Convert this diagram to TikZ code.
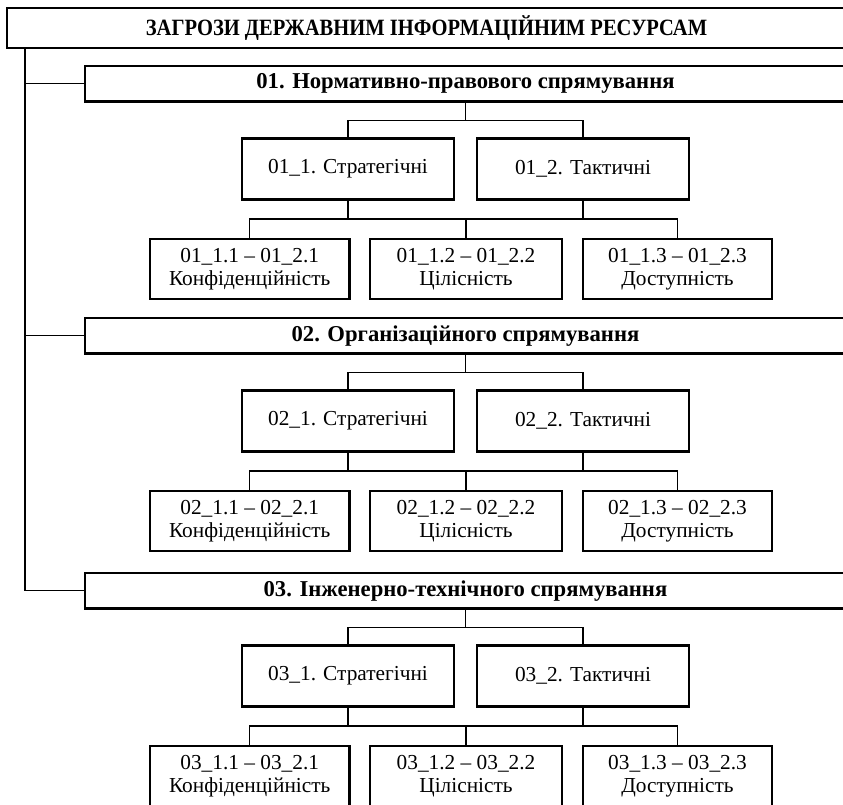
\documentclass[tikz,border=0pt]{standalone}
\usepackage{fontspec}
\setmainfont{Liberation Serif}
\newfontfamily\narrowserif[FakeStretch=0.88]{Liberation Serif}
\begin{document}
\begin{tikzpicture}[x=0.75pt,y=-0.75pt,
  frame/.style={draw, line width=1.6pt, rectangle, inner sep=0pt, outer sep=0pt,
                anchor=north west, align=center},
  link/.style={line width=1.1pt},
  titletext/.style={font=\narrowserif\bfseries\fontsize{17.5pt}{20pt}\selectfont},
  headtext/.style={font=\bfseries\fontsize{17pt}{20pt}\selectfont},
  bodytext/.style={font=\fontsize{16pt}{17.5pt}\selectfont}]
\useasboundingbox (0,0) rectangle (843,805);

% root box (its right side runs past the page edge)
\node[frame, titletext, minimum width=629.25pt, minimum height=30pt] (top) at (7,8)
  {ЗАГРОЗИ ДЕРЖАВНИМ ІНФОРМАЦІЙНИМ РЕСУРСАМ};

% vertical trunk on the left
\coordinate (tk) at (25,0);

\foreach \g/\o/\name in {01/0/{Нормативно-правового спрямування},
                         02/252/{Організаційного спрямування},
                         03/507/{Інженерно-технічного спрямування}}{
  % group heading
  \node[frame, headtext, minimum width=570.75pt, minimum height=26.6pt] (L\g) at (85,66+\o)
    {\g. \name};
  % strategic / tactical
  \node[frame, bodytext, minimum width=159pt, minimum height=45.75pt] (S\g) at (242,138.5+\o)
    {\g\_1. Стратегічні};
  \node[frame, bodytext, minimum width=159pt, minimum height=45.75pt] (T\g) at (477,138.5+\o)
    {\g\_2. Тактичні};
  % security properties
  \node[frame, bodytext, minimum width=149.6pt, minimum height=45pt] (A\g) at (150,239+\o)
    {\g\_1.1 – \g\_2.1\\Конфіденційність};
  \node[frame, bodytext, minimum width=144pt, minimum height=45pt] (B\g) at (370,239+\o)
    {\g\_1.2 – \g\_2.2\\Цілісність};
  \node[frame, bodytext, minimum width=141.75pt, minimum height=45pt] (C\g) at (583,239+\o)
    {\g\_1.3 – \g\_2.3\\Доступність};
  % bar levels
  \coordinate (u\g) at (0,120.5+\o);
  \coordinate (d\g) at (0,219+\o);
  % heading -> strategic / tactical
  \draw[link] (L\g.south) -- (L\g.south |- u\g);
  \draw[link] (S\g.north) -- (S\g.north |- u\g) -- (T\g.north |- u\g) -- (T\g.north);
  % strategic / tactical -> properties
  \draw[link] (S\g.south) -- (S\g.south |- d\g);
  \draw[link] (T\g.south) -- (T\g.south |- d\g);
  \draw[link] (A\g.north) -- (A\g.north |- d\g) -- (C\g.north |- d\g) -- (C\g.north);
  \draw[link] (B\g.north) -- (B\g.north |- d\g);
  % trunk -> heading
  \draw[link] (tk |- L\g.west) -- (L\g.west);
}
\draw[link] (tk |- top.south) -- (tk |- L03.west);
\end{tikzpicture}
\end{document}
